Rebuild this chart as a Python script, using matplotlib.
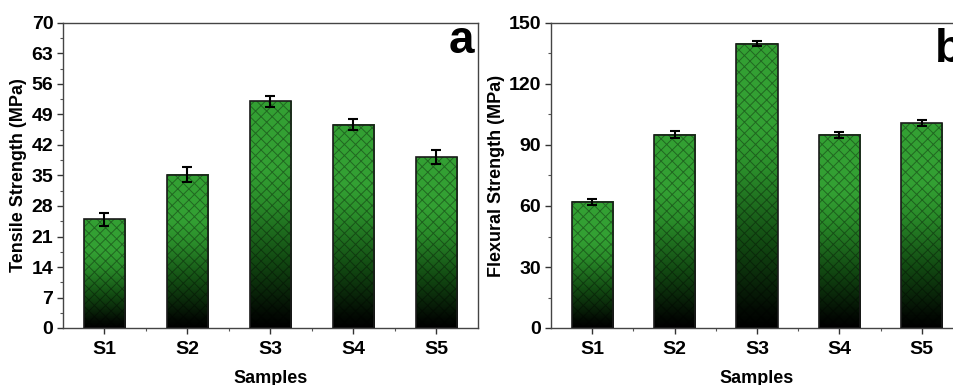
import matplotlib
matplotlib.use("Agg")
import matplotlib.pyplot as plt
import numpy as np
from matplotlib.colors import LinearSegmentedColormap
from matplotlib.ticker import MultipleLocator, FixedLocator

plt.rcParams['font.family'] = ['Liberation Sans', 'DejaVu Sans']
plt.rcParams['font.weight'] = 'bold'
plt.rcParams['hatch.linewidth'] = 0.7

samples = ["S1", "S2", "S3", "S4", "S5"]
tensile = [25.0, 35.2, 52.0, 46.7, 39.2]
tensile_err = [1.5, 1.7, 1.3, 1.3, 1.6]
flexural = [62.0, 95.0, 139.8, 95.0, 100.8]
flexural_err = [1.5, 1.8, 1.3, 1.4, 1.7]

green = "#33a033"
cmap = LinearSegmentedColormap.from_list(
    "g", [(0, "#000000"), (0.06, "#030a03"), (0.3, "#124a12"), (0.55, "#2a8c2a"), (0.7, green), (1, green)])

fig = plt.figure(figsize=(9.54, 3.85), dpi=100)
W, H = 954, 385
ax1 = fig.add_axes([63 / W, 1 - 328 / H, (478 - 63) / W, (328 - 23) / H])
ax2 = fig.add_axes([551 / W, 1 - 328 / H, (963 - 551) / W, (328 - 23) / H])


def draw(ax, vals, errs, ymax, major, ylabel):
    x = np.arange(1, len(vals) + 1)
    w = 0.5
    grad = np.linspace(0, 1, 256).reshape(-1, 1)
    for xi, v in zip(x, vals):
        ax.imshow(grad, cmap=cmap, origin="lower", aspect="auto",
                  extent=[xi - w / 2, xi + w / 2, 0, v], zorder=1, interpolation="bilinear")
    ax.bar(x, vals, width=w, facecolor="none", edgecolor=(0, 0, 0, 0.35), hatch="xxx", linewidth=0, zorder=2)
    ax.bar(x, vals, width=w, facecolor="none", edgecolor="#1a1a1a", linewidth=1.2, zorder=3)
    ax.errorbar(x, vals, yerr=errs, fmt="none", ecolor="black", elinewidth=1.5, capsize=3.5, capthick=1.5, zorder=4)
    ax.set_xlim(0.5, 5.5)
    ax.set_ylim(0, ymax)
    ax.set_xticks(x)
    ax.set_xticklabels(samples)
    ax.xaxis.set_minor_locator(FixedLocator(np.arange(1.5, 5.5, 1)))
    ax.yaxis.set_major_locator(MultipleLocator(major))
    ax.yaxis.set_minor_locator(MultipleLocator(major / 2))
    ax.tick_params(axis="both", which="major", direction="out", length=4, width=1, labelsize=14, colors="#333333", labelcolor="black")
    ax.tick_params(axis="both", which="minor", direction="out", length=2, width=0.8, colors="#555555")
    ax.tick_params(axis="x", pad=5)
    ax.tick_params(axis="y", pad=3)
    for lab in ax.get_xticklabels() + ax.get_yticklabels():
        lab.set_fontweight("bold")
    for s in ax.spines.values():
        s.set_color("#444444")
        s.set_linewidth(1.0)
    ax.set_ylabel(ylabel, fontsize=13, fontweight="bold", labelpad=3)
    ax.set_xlabel("Samples", fontsize=13, fontweight="bold", labelpad=9)


draw(ax1, tensile, tensile_err, 70, 7, "Tensile Strength (MPa)")
draw(ax2, flexural, flexural_err, 150, 30, "Flexural Strength (MPa)")
ax1.text(0.99, 0.902, "a", transform=ax1.transAxes, ha="right", va="baseline", fontsize=33, fontweight="bold")
ax2.text(0.932, 0.872, "b", transform=ax2.transAxes, ha="left", va="baseline", fontsize=33, fontweight="bold")

fig.savefig("out.png", dpi=100)
